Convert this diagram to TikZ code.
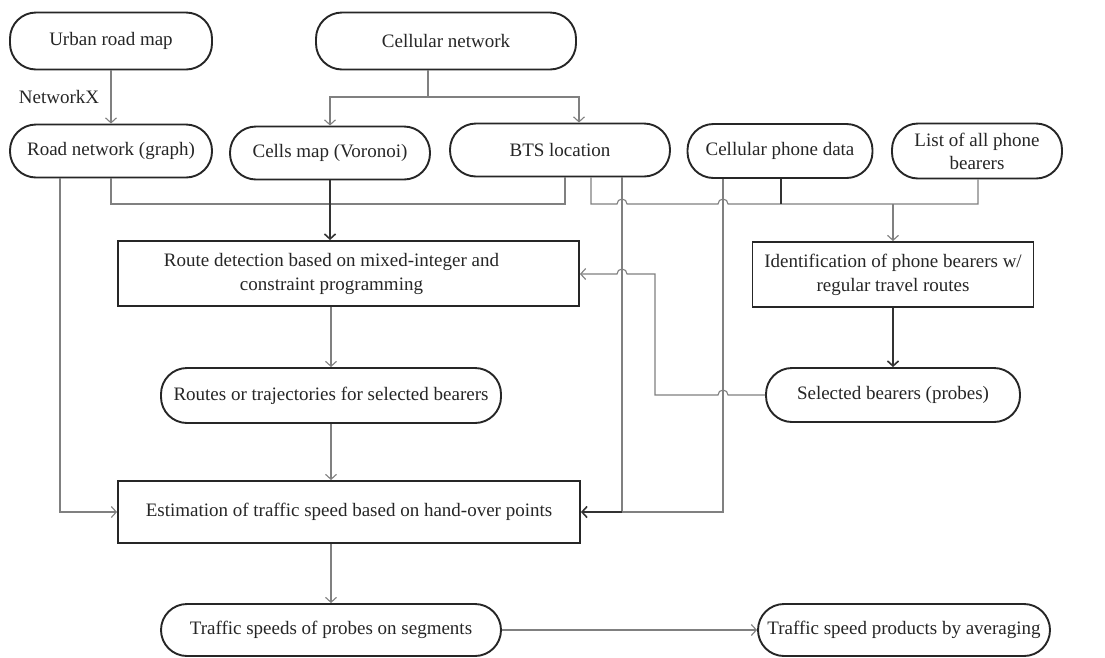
\documentclass[tikz,border=0pt]{standalone}
\usepackage{fontspec}
\setmainfont{Liberation Serif}
\usetikzlibrary{arrows.meta}
\begin{document}
\begin{tikzpicture}[x=1pt,y=-1pt,
 every node/.style={font=\fontsize{19}{21}\selectfont, text=black!85},
 term/.style={draw=black!85, line width=1.9pt, rectangle, rounded corners=26pt, inner sep=2pt, align=center},
 proc/.style={draw=black!85, line width=1.9pt, rectangle, inner sep=2pt, align=center},
 conn/.style={draw=black!50, line width=1.1pt},
 dconn/.style={draw=black!80, line width=1.6pt},
 arr/.style={-{Straight Barb[length=5pt,width=11pt]}}]
\useasboundingbox[fill=white] (0,0) rectangle (1105,657);

% nodes
\node[term, minimum width=202pt, minimum height=57pt] (urban) at (111,41) {Urban road map};
\node[term, minimum width=260pt, minimum height=57pt] (cellnet) at (446,41) {Cellular network};
\node[term, minimum width=202pt, minimum height=53pt] (road) at (111,151) {Road network (graph)};
\node[term, minimum width=200pt, minimum height=53pt] (cells) at (330,153) {Cells map (Voronoi)};
\node[term, minimum width=220pt, minimum height=53pt] (bts) at (560,150) {BTS location};
\node[term, minimum width=185pt, minimum height=54pt] (cpd) at (780,151) {Cellular phone data};
\node[term, minimum width=170pt, minimum height=55pt, font=\fontsize{19}{23}\selectfont] (list) at (977,151) {List of all phone\\bearers};
\node[proc, minimum width=461pt, minimum height=65pt, font=\fontsize{19}{24}\selectfont] (route) at (348.5,273.5) {Route detection based on mixed-integer and\hspace*{34pt}\\constraint programming\hspace*{34pt}};
\node[proc, minimum width=281pt, minimum height=65pt, font=\fontsize{19}{24}\selectfont] (ident) at (893,274.5) {Identification of phone bearers w/\\regular travel routes};
\node[term, minimum width=254pt, minimum height=54pt] (sel) at (893,395) {Selected bearers (probes)};
\node[term, minimum width=340pt, minimum height=55pt] (routes) at (331,395.5) {Routes or trajectories for selected bearers};
\node[proc, minimum width=462pt, minimum height=62pt] (est) at (349,512) {Estimation of traffic speed based on hand-over points};
\node[term, minimum width=340pt, minimum height=52pt] (tsp) at (331,630) {Traffic speeds of probes on segments};
\node[term, minimum width=292pt, minimum height=52pt] (prod) at (904,630) {Traffic speed products by averaging};

% junction coordinates
\coordinate (j1) at (428,97);
\coordinate (b1) at (579,97);
\coordinate (r1) at (60,512);
\coordinate (r2) at (111,204);
\coordinate (r3) at (565,204);
\coordinate (c1) at (591,204);
\coordinate (c2) at (978,204);
\coordinate (c3) at (781,204);
\coordinate (c4) at (893,204);
\coordinate (e1) at (622,512);
\coordinate (e2) at (723,512);
\coordinate (s1) at (655,395);
\coordinate (s2) at (655,274);

% connectors
\draw[conn,arr] (urban) -- node[left=8pt, pos=0.5] (nx) {NetworkX} (road);
\draw[conn] (j1 |- cellnet.south) -- (j1);
\draw[conn,arr] (j1) -| (cells.north);
\draw[conn,arr] (j1) -- (b1) -- (b1 |- bts.north);

\draw[conn,arr] (r1 |- road.south) -- (r1) -- (est.west);
\draw[conn] (r2 |- road.south) -- (r2) -- (r3) -- (r3 |- bts.south);
\draw[dconn,arr] (cells.south) -- (cells.south |- route.north);

\draw[conn] (c1 |- bts.south) -- (c1) -- (617,204) arc[start angle=180,end angle=0,radius=5pt]
  -- (718,204) arc[start angle=180,end angle=0,radius=5pt] -- (c2) -- (c2 |- list.south);
\draw[dconn] (c3 |- cpd.south) -- (c3);
\draw[conn,arr] (c4) -- (c4 |- ident.north);

\draw[conn] (e1 |- bts.south) -- (e1);
\draw[conn] (e2 |- cpd.south) -- (e2) -- (e1);
\draw[dconn,arr] (e1) -- (est.east);

\draw[dconn,arr] (ident.south) -- (sel.north);
\draw[conn,arr] (sel.west) -- (728,395) arc[start angle=0,end angle=180,radius=5pt]
  -- (s1) -- (s2) -- (627,274) arc[start angle=0,end angle=180,radius=5pt] -- (route.east |- s2);

\draw[conn,arr] (routes.north |- route.south) -- (routes.north);
\draw[conn,arr] (routes.south) -- (routes.south |- est.north);
\draw[conn,arr] (tsp.north |- est.south) -- (tsp.north);
\draw[conn,arr] (tsp.east) -- (prod.west);
\end{tikzpicture}
\end{document}
